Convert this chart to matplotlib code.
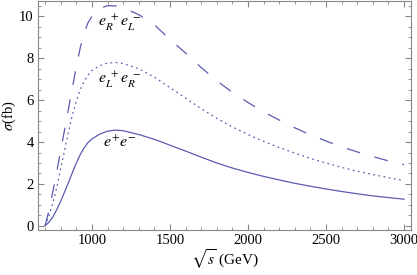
import matplotlib
matplotlib.use("Agg")
import matplotlib.pyplot as plt
from matplotlib.ticker import MultipleLocator

plt.rcParams['font.family'] = ['Liberation Serif', 'DejaVu Serif']
plt.rcParams['mathtext.fontset'] = 'stix'

# sqrt(s) in GeV (shared grid) and cross sections in fb
s_grid = [700, 725, 750, 775, 800, 825, 850, 875, 900, 925, 950, 975, 1000, 1050, 1100, 1150, 1200,
          1300, 1400, 1500, 1600, 1700, 1800, 1900, 2000, 2100, 2200, 2300, 2400, 2500, 2600, 2700,
          2800, 2900, 3000]

sig_ee = [0.0, 0.18, 0.43, 0.78, 1.18, 1.62, 2.07, 2.55, 3.0, 3.4, 3.72, 3.98, 4.15, 4.38, 4.52, 4.57, 4.54,
          4.36, 4.13, 3.85, 3.57, 3.28, 3.0, 2.76, 2.55, 2.36, 2.19, 2.03, 1.89, 1.76, 1.64, 1.53,
          1.43, 1.35, 1.27]

sig_LR = [0.0, 0.5, 1.1, 1.85, 2.75, 3.6, 4.5, 5.3, 5.95, 6.5, 6.9, 7.2, 7.42, 7.65, 7.77, 7.8, 7.75,
          7.5, 7.1, 6.6, 6.1, 5.6, 5.13, 4.72, 4.36, 4.03, 3.74, 3.47, 3.22, 3.0, 2.79, 2.61,
          2.45, 2.3, 2.16]

sig_RL = [0.0, 0.75, 1.65, 2.6, 3.6, 4.6, 5.6, 6.6, 7.6, 8.5, 9.2, 9.7, 10.0, 10.38, 10.51, 10.5, 10.42,
          10.08, 9.6, 8.9, 8.25, 7.56, 6.93, 6.37, 5.89, 5.44, 5.05, 4.68, 4.35, 4.05, 3.77, 3.53,
          3.31, 3.1, 2.92]

color = '#5b5bb0'
lw = 0.9

fig = plt.figure(figsize=(4.17, 2.75), dpi=100)
ax = fig.add_axes([0.091, 0.1636, 0.895, 0.834])

ax.plot(s_grid, sig_ee, color=color, lw=lw)
ax.plot(s_grid, sig_LR, color=color, lw=lw, linestyle=(0, (1.4, 2.8)))
ax.plot(s_grid, sig_RL, color=color, lw=lw, linestyle=(0, (11, 12)))

ax.set_xlim(654, 3046)
ax.set_ylim(-0.2, 10.75)

ax.xaxis.set_minor_locator(MultipleLocator(100))
ax.yaxis.set_minor_locator(MultipleLocator(0.5))
ax.set_xticks([1000, 1500, 2000, 2500, 3000])
ax.set_xticklabels(['1000', '1500', '2000', '2500', '3000'])
ax.set_yticks([0, 2, 4, 6, 8, 10])
ax.set_yticklabels(['0', '2', '4', '6', '8', '10'])

ax.tick_params(which='both', direction='in', top=True, right=True, color='#888888', labelsize=10.5, pad=3)
ax.tick_params(which='major', length=4, width=0.8)
ax.tick_params(which='minor', length=2.2, width=0.6)
ax.tick_params(axis='x', which='both', labeltop=False)
ax.tick_params(axis='y', which='both', labelright=False)
for sp in ax.spines.values():
    sp.set_color('#888888')
    sp.set_linewidth(0.8)

ax.text(1180, 9.7, r'$e_R^{\ +}e_L^{\ -}$', fontsize=11.5, ha='center', va='center')
ax.text(1180, 6.95, r'$e_L^{\ +}e_R^{\ -}$', fontsize=11.5, ha='center', va='center')
ax.text(1175, 3.95, r'$e^{+}e^{-}$', fontsize=11.5, ha='center', va='center')

ax.set_ylabel(r'$\sigma$(fb)', fontsize=10.5, labelpad=1)
ax.set_xlabel(r'$\sqrt{s}$ (GeV)', fontsize=11, labelpad=0)

fig.savefig('out.png', dpi=100)
